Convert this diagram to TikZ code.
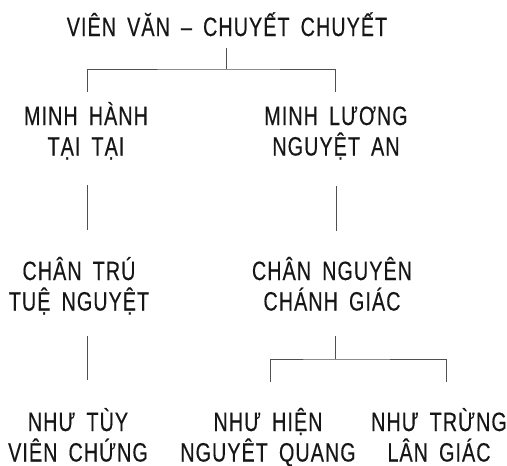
\documentclass[tikz,border=0pt]{standalone}
\usepackage{fontspec}
\usetikzlibrary{calc}
\newfontfamily\namefont[FakeStretch=0.745,LetterSpace=4,WordSpace=1.7,FakeBold=0.4]{Liberation Sans}
\definecolor{txt}{HTML}{161616}
\definecolor{lnc}{HTML}{505050}
\newcommand{\twolines}[2]{\vtop{\halign{\hfil##\hfil\cr#1\cr#2\cr}}}
\tikzset{
  nm/.style={font=\namefont\fontsize{26.5pt}{30.5pt}\selectfont, inner sep=0pt, anchor=base, text=txt},
  ln/.style={draw=lnc, line width=0.8pt}
}
\begin{document}
\begin{tikzpicture}[x=1pt,y=-1pt]
\useasboundingbox (0,0) rectangle (507,466);
\node[nm] (top) at (227,36) {VIÊN VĂN – CHUYẾT CHUYẾT};
\node[nm] (a) at (86,125) {\twolines{MINH HÀNH}{TẠI TẠI}};
\node[nm] (b) at (336,125) {\twolines{MINH LƯƠNG}{NGUYỆT AN}};
\node[nm] (c) at (79,280) {\twolines{CHÂN TRÚ}{TUỆ NGUYỆT}};
\node[nm] (d) at (332,280) {\twolines{CHÂN NGUYÊN}{CHÁNH GIÁC}};
\node[nm] (e) at (78,431) {\twolines{NHƯ TÙY}{VIÊN CHỨNG}};
\node[nm] (f) at (268,431) {\twolines{NHƯ HIỆN}{NGUYÊT QUANG}};
\node[nm] (g) at (439,431) {\twolines{NHƯ TRỪNG}{LÂN GIÁC}};
\coordinate (j1) at (226,69);
\coordinate (j2) at (335,359);
\draw[ln] ($(top.base)+(-1,12)$) -- (j1);
\draw[ln] ($(a.base)+(1,-33)$) |- (j1) -| ($(b.base)+(-1,-33)$);
\draw[ln] ($(a.base)+(1,60)$) -- ($(c.base)+(8,-50)$);
\draw[ln] ($(b.base)+(0,61)$) -- ($(d.base)+(4,-49)$);
\draw[ln] ($(c.base)+(8,56)$) -- ($(e.base)+(9,-51)$);
\draw[ln] ($(d.base)+(3,56)$) -- (j2);
\draw[ln] ($(f.base)+(2,-49)$) |- (j2) -| ($(g.base)+(7,-49)$);
\end{tikzpicture}
\end{document}
